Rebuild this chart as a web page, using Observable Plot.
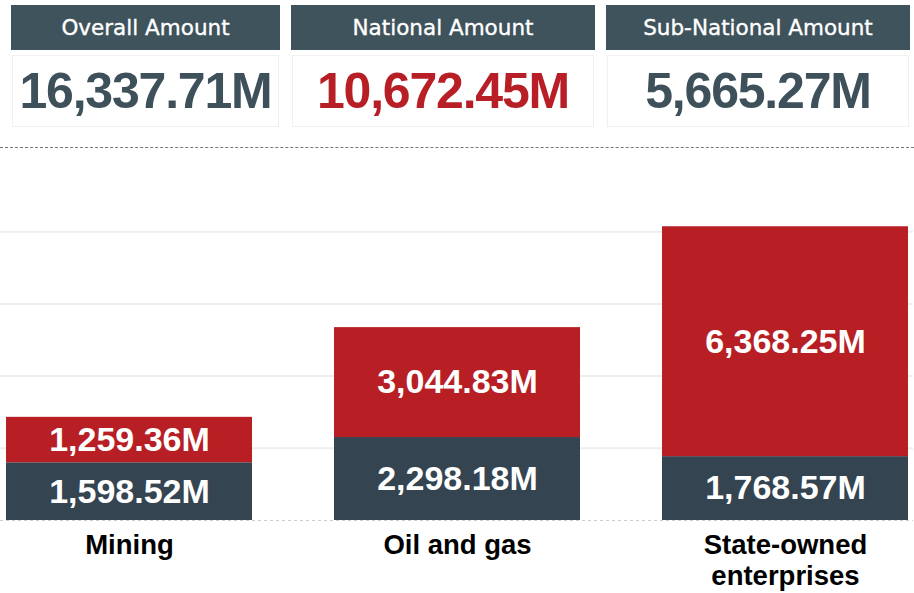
<!DOCTYPE html>
<html>
<head>
<meta charset="utf-8">
<script src="https://cdn.jsdelivr.net/npm/d3@7"></script>
<script src="https://cdn.jsdelivr.net/npm/@observablehq/plot@0.6"></script>
<style>
  body { margin: 0; background: #fff; width: 914px; height: 593px; overflow: hidden; font-family: "Liberation Sans", Arial, sans-serif; }
  #header { position: relative; height: 150px; width: 914px; }
  .card { position: absolute; top: 5px; }
  .card .hd { height: 45px; background: #3f535c; color: #fff; font-family: "DejaVu Sans", sans-serif; font-size: 21.5px; -webkit-text-stroke: 0.35px #fff; line-height: 46px; text-align: center; white-space: nowrap; }
  .card .val { position: absolute; top: 50px; left: 1px; right: 1px; height: 70px; border: 1px solid #f0f0f0; text-align: center; font-family: "Liberation Sans", Arial, sans-serif; font-weight: bold; font-size: 50px; letter-spacing: -1.2px; line-height: 70px; color: #3e515b; }
  #dash { position: absolute; top: 147px; left: 0; width: 914px; border-top: 1px dashed #777; }
  #chart { position: absolute; top: 150px; left: 0; }
</style>
</head>
<body>
<div id="header"></div>
<div id="chart"></div>
<script>
// ---- data ----
const cardTitles = ["Overall Amount", "National Amount", "Sub-National Amount"];
const cardValues = [16337.71, 10672.45, 5665.27];
const cardColors = ["#3e515b", "#b81e25", "#3e515b"];

const categories = ["Mining", "Oil and gas", "State-owned enterprises"];
const seriesNames = ["Sub-National", "National"];
const subNationalValues = [1598.52, 2298.18, 1768.57];
const nationalValues = [1259.36, 3044.83, 6368.25];
const yTicks = [2000, 4000, 6000, 8000];

const fmt = v => d3.format(",.2f")(v) + "M";

// ---- header cards ----
const cardLefts = [11, 291, 606];
const cardWidths = [269, 304, 304];
const header = document.getElementById("header");
cardTitles.forEach((t, i) => {
  const c = document.createElement("div");
  c.className = "card";
  c.style.left = cardLefts[i] + "px";
  c.style.width = cardWidths[i] + "px";
  const hd = document.createElement("div");
  hd.className = "hd";
  hd.textContent = t;
  const val = document.createElement("div");
  val.className = "val";
  val.style.color = cardColors[i];
  val.textContent = fmt(cardValues[i]);
  c.appendChild(hd);
  c.appendChild(val);
  header.appendChild(c);
});
const dash = document.createElement("div");
dash.id = "dash";
header.appendChild(dash);

// ---- chart ----
const data = categories.flatMap((c, i) => [
  {category: c, series: seriesNames[0], value: subNationalValues[i]},
  {category: c, series: seriesNames[1], value: nationalValues[i]}
]);

const chart = Plot.plot({
  width: 914,
  height: 443,
  marginLeft: 0,
  marginRight: 1,
  marginTop: 9,
  marginBottom: 73,
  style: {fontFamily: "'Liberation Sans', Arial, sans-serif", background: "#fff"},
  x: {domain: categories, paddingInner: 0.25, paddingOuter: 0.015, label: null},
  y: {domain: [0, 10000], axis: null},
  color: {domain: seriesNames, range: ["#344551", "#b71f24"]},
  marks: [
    Plot.gridY(yTicks, {stroke: "#eeeeee", strokeOpacity: 1, strokeWidth: 2}),
    Plot.ruleY([0], {stroke: "#cccccc", strokeDasharray: "3,3"}),
    Plot.barY(data, {x: "category", y: "value", fill: "series"}),
    Plot.text(data, Plot.stackY({
      x: "category", y: "value", text: d => fmt(d.value),
      fill: "white", fontSize: 34, fontWeight: "bold"
    })),
    Plot.axisX({tickSize: 0, tickPadding: 11, fontSize: 27.5, fontWeight: "bold", fill: "black", lineWidth: 8, lineHeight: 1.13, label: null})
  ]
});
document.getElementById("chart").appendChild(chart);
</script>
</body>
</html>
